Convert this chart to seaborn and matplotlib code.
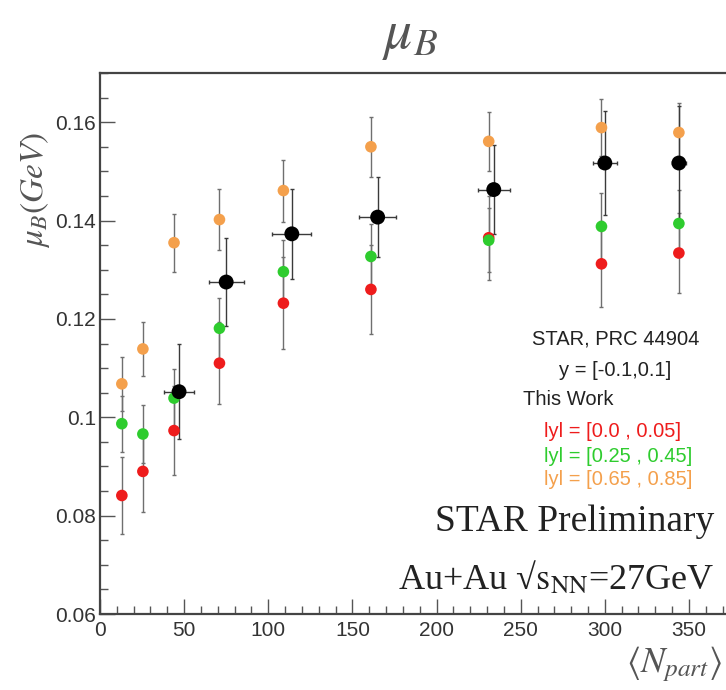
import matplotlib
matplotlib.use("Agg")
import matplotlib.pyplot as plt
from matplotlib.ticker import MultipleLocator
import pandas as pd
import seaborn as sns

# STAR, PRC 44904 (black)
star_npart = [47, 75, 114, 165, 234, 300, 344]
star_mub = [0.1052, 0.1275, 0.1373, 0.1407, 0.1463, 0.1517, 0.1517]
star_xerr = [9, 10.5, 11.5, 11, 9.5, 7, 4]
star_yerr = [0.0097, 0.009, 0.0092, 0.0082, 0.009, 0.0105, 0.0115]

# this work, three rapidity windows
work_npart = [13, 25.5, 44, 71, 109, 161, 231, 298, 344]
mub_y0 = [0.0841, 0.0890, 0.0973, 0.1110, 0.1232, 0.1260, 0.1365, 0.1312, 0.1334]
err_y0 = [0.0078, 0.0082, 0.0090, 0.0083, 0.0094, 0.0090, 0.0085, 0.0087, 0.0082]
mub_y1 = [0.0987, 0.0966, 0.1039, 0.1181, 0.1296, 0.1327, 0.1360, 0.1388, 0.1394]
err_y1 = [0.0057, 0.0059, 0.0060, 0.0062, 0.0065, 0.0065, 0.0065, 0.0068, 0.0068]
mub_y2 = [0.1068, 0.1139, 0.1355, 0.1402, 0.1461, 0.1550, 0.1561, 0.1589, 0.1579]
err_y2 = [0.0055, 0.0055, 0.0059, 0.0062, 0.0063, 0.0061, 0.0060, 0.0058, 0.0060]

windows = ['lyl = [0.0 , 0.05]', 'lyl = [0.25 , 0.45]', 'lyl = [0.65 , 0.85]']
colors = ['#ee1c1c', '#2ecc2e', '#f4a04c']

rows = []
for w, vals, errs in zip(windows, [mub_y0, mub_y1, mub_y2], [err_y0, err_y1, err_y2]):
    for n, v, e in zip(work_npart, vals, errs):
        rows.append({'npart': n, 'mub': v, 'err': e, 'window': w})
df = pd.DataFrame(rows)
star = pd.DataFrame({'npart': star_npart, 'mub': star_mub,
                     'xerr': star_xerr, 'yerr': star_yerr})

sns.set_style('white')
plt.rcParams['font.family'] = ['Liberation Sans', 'DejaVu Sans']
plt.rcParams['mathtext.fontset'] = 'stix'

fig = plt.figure(figsize=(7.26, 6.90), dpi=100)
ax = fig.add_axes([0.1377, 0.1101, 0.8623, 0.7841])

# error bars first, markers on top
for w in windows:
    d = df[df['window'] == w]
    ax.errorbar(d['npart'], d['mub'], yerr=d['err'], fmt='none',
                ecolor='#6f6f6f', elinewidth=1, capsize=1.5, zorder=1)
ax.errorbar(star['npart'], star['mub'], xerr=star['xerr'], yerr=star['yerr'],
            fmt='none', ecolor='#3a3a3a', elinewidth=1, capsize=1.5, zorder=1)

sns.scatterplot(data=df, x='npart', y='mub', hue='window', palette=colors,
                s=70, edgecolor='none', legend=False, ax=ax, zorder=3)
sns.scatterplot(data=star, x='npart', y='mub', color='black', s=115,
                edgecolor='none', legend=False, ax=ax, zorder=4)

ax.set_xlim(0, 372)
ax.set_ylim(0.06, 0.17)
ax.xaxis.set_major_locator(MultipleLocator(50))
ax.xaxis.set_minor_locator(MultipleLocator(10))
ax.yaxis.set_major_locator(MultipleLocator(0.02))
ax.yaxis.set_minor_locator(MultipleLocator(0.005))
ax.set_yticks([0.06, 0.08, 0.1, 0.12, 0.14, 0.16])
ax.set_yticklabels(['0.06', '0.08', '0.1', '0.12', '0.14', '0.16'])
ax.tick_params(which='both', direction='in', bottom=True, left=True,
               top=False, right=False, color='#555555',
               labelcolor='#333333', labelsize=15)
ax.tick_params(which='major', length=11, width=1)
ax.tick_params(which='minor', length=6, width=1)
ax.tick_params(axis='x', pad=5)
ax.tick_params(axis='y', pad=3)
for s in ['left', 'bottom', 'top']:
    ax.spines[s].set_color('#444444')
    ax.spines[s].set_linewidth(1.6)
ax.spines['right'].set_visible(False)

ax.set_xlabel('')
ax.set_ylabel('')
fig.text(0.565, 0.948, r'$\mu_B$', fontsize=40, color='#555555',
         ha='center', va='center')
fig.text(0.048, 0.725, r'$\mu_B(GeV)$', fontsize=24, color='#555555',
         rotation=90, ha='center', va='center')
fig.text(0.995, 0.038, r'$\langle N_{part}\rangle$', fontsize=26,
         color='#555555', ha='right', va='center')

tr = ax.transAxes
ax.text(0.823, 0.508, 'STAR, PRC 44904', transform=tr, fontsize=14.5,
        color='#222222', ha='center', va='center')
ax.text(0.823, 0.451, 'y = [-0.1,0.1]', transform=tr, fontsize=14.5,
        color='#222222', ha='center', va='center')
ax.text(0.675, 0.396, 'This Work', transform=tr, fontsize=14.5,
        color='#222222', ha='left', va='center')
for w, c, yy in zip(windows, colors, [0.337, 0.291, 0.248]):
    ax.text(0.709, yy, w, transform=tr, fontsize=14.5, color=c,
            ha='left', va='center')

ax.text(0.981, 0.171, 'STAR Preliminary', transform=tr, fontsize=27,
        family='Liberation Serif', color='#222222', ha='right', va='center')
ax.text(0.981, 0.066, r'Au+Au √$\mathrm{s}_{\mathrm{NN}}$=27GeV', transform=tr,
        fontsize=26, family='Liberation Serif', color='#222222',
        ha='right', va='center')

fig.savefig('out.png', dpi=100)
